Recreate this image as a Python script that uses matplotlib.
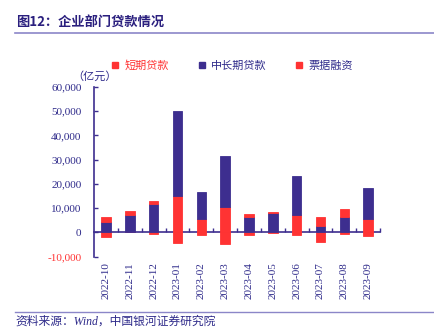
import numpy as np
import matplotlib
matplotlib.use("Agg")
import matplotlib.pyplot as plt
from matplotlib.lines import Line2D
from matplotlib.ticker import FuncFormatter

plt.rcParams['font.family'] = ['Liberation Serif', 'Noto Sans CJK SC']

months = ['2022-10', '2022-11', '2022-12', '2023-01', '2023-02', '2023-03',
          '2023-04', '2023-05', '2023-06', '2023-07', '2023-08', '2023-09']
# 单位：亿元
short_term = [-1800, 200, -600, 14900, 5650, 10600, -1000, -200, 7300, -3800, -700, 5500]
mid_long = [4400, 7000, 11850, 35100, 11150, 20800, 6500, 8000, 16100, 2500, 6200, 12700]
bill = [1950, 1650, 1250, -4400, -1250, -4950, 1200, 350, -1100, 3700, 3600, -1500]

RED = '#FF3333'
PURPLE = '#3D2E8F'
TEXT = '#2E2A8A'

fig = plt.figure(figsize=(4.35, 3.34), dpi=100)
ax = fig.add_axes([0.216, 0.2314, 0.658, 0.5081])

x = np.arange(len(months))
pos_base = np.zeros(len(months))
neg_base = np.zeros(len(months))
for vals, col in [(short_term, RED), (mid_long, PURPLE), (bill, RED)]:
    v = np.array(vals, dtype=float)
    bottoms = np.where(v >= 0, pos_base, neg_base)
    ax.bar(x, v, width=0.4, bottom=bottoms, color=col,
           edgecolor=col, linewidth=0.6, alpha=1, zorder=2)
    pos_base += np.where(v >= 0, v, 0)
    neg_base += np.where(v < 0, v, 0)

ax.set_xlim(-0.5, len(months) - 0.5)
ax.set_ylim(-10000, 60000)
ax.set_yticks(np.arange(-10000, 60001, 10000))
ax.yaxis.set_major_formatter(FuncFormatter(lambda v, p: f'{int(v):,}'))
ax.tick_params(axis='y', direction='in', length=3, width=1, color=PURPLE,
               labelsize=8, labelcolor=TEXT, pad=9)
for lab in ax.get_yticklabels():
    if lab.get_text().startswith('-') or lab.get_text().startswith('−'):
        lab.set_color(RED)
ax.get_yticklabels()[0].set_color(RED)

ax.set_xticks(x)
ax.set_xticklabels(months, rotation=90)
ax.tick_params(axis='x', length=0, labelsize=8, labelcolor=TEXT, pad=4)

for s in ['top', 'right', 'bottom']:
    ax.spines[s].set_visible(False)
ax.spines['left'].set_color(PURPLE)
ax.spines['left'].set_linewidth(1.2)

# zero line with separators between months
zero = ax.secondary_xaxis(0, transform=ax.transData)
zero.spines['bottom'].set_color(PURPLE)
zero.spines['bottom'].set_linewidth(1.2)
zero.set_xticks(x + 0.5)
zero.tick_params(direction='in', length=3, width=1, color=PURPLE, labelbottom=False)

# legend
handles = [Line2D([], [], marker='s', linestyle='none', markersize=5, color=RED),
           Line2D([], [], marker='s', linestyle='none', markersize=5, color=PURPLE),
           Line2D([], [], marker='s', linestyle='none', markersize=5, color=RED)]
leg = fig.legend(handles, ['短期贷款', '中长期贷款', '票据融资'], ncol=3,
                 loc='center left', bbox_to_anchor=(0.255, 0.803), frameon=False,
                 fontsize=8, handlelength=0.7, handletextpad=0.5,
                 columnspacing=2.6, borderaxespad=0, borderpad=0)
for t, c in zip(leg.get_texts(), [RED, TEXT, TEXT]):
    t.set_color(c)

fig.text(0.218, 0.772, '（亿元）', fontsize=8, color=TEXT, ha='center', va='center')

# header and footer
fig.text(0.036, 0.931, '图12：企业部门贷款情况', fontsize=9.5, fontweight='bold',
         color='#2A1F7E', family=['Noto Sans CJK SC'], va='center')
fig.add_artist(Line2D([0.034, 1.0], [0.901, 0.901], color='#8B86C8', linewidth=1.2))
fig.add_artist(Line2D([0.034, 1.0], [0.066, 0.066], color='#8B86C8', linewidth=1.0))
fig.text(0.036, 0.036, '资料来源：Wind，中国银河证券研究院', fontsize=8.5,
         style='italic', color=TEXT, va='center')

fig.savefig('out.png', dpi=100)
